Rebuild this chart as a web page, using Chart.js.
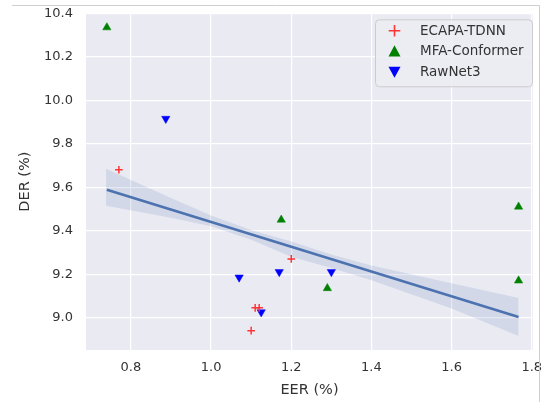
<!DOCTYPE html>
<html>
<head>
<meta charset="utf-8">
<script src="https://cdn.jsdelivr.net/npm/chart.js@4.4.1/dist/chart.umd.min.js"></script>
<style>
  html, body { margin: 0; padding: 0; background: #fff; }
  #wrap { width: 542px; height: 402px; }
</style>
</head>
<body>
<div id="wrap"><canvas id="myChart" width="542" height="402"></canvas></div>
<script>
// values
var ecapaEER = [0.77, 1.20, 1.11, 1.12, 1.10];
var ecapaDER = [9.68, 9.27, 9.045, 9.045, 8.94];
var mfaEER = [0.74, 1.175, 1.29, 1.767, 1.767];
var mfaDER = [10.335, 9.45, 9.135, 9.51, 9.17];
var rawEER = [0.887, 1.07, 1.17, 1.125, 1.30];
var rawDER = [9.915, 9.185, 9.21, 9.025, 9.21];

// confidence band of the fit
var fitX = [0.738, 0.9, 1.0, 1.1, 1.2, 1.3, 1.4, 1.6, 1.767];
var fitLow = [9.515, 9.459, 9.42, 9.358, 9.28, 9.228, 9.172, 9.042, 8.915];
var fitHigh = [9.685, 9.55, 9.47, 9.403, 9.35, 9.29, 9.24, 9.158, 9.09];

var xTicks = [0.8, 1.0, 1.2, 1.4, 1.6, 1.8];
var yTicks = [9.0, 9.2, 9.4, 9.6, 9.8, 10.0, 10.2, 10.4];

var seriesNames = ['ECAPA-TDNN', 'MFA-Conformer', 'RawNet3'];
var seriesColors = ['#ff3535', '#008000', '#0000ff'];

function pts(xs, ys) {
    return xs.map(function (x, i) { return {x: x, y: ys[i]}; });
}

// least squares fit over all points
var allX = ecapaEER.concat(mfaEER, rawEER);
var allY = ecapaDER.concat(mfaDER, rawDER);
var mx = allX.reduce(function (a, b) { return a + b; }, 0) / allX.length;
var my = allY.reduce(function (a, b) { return a + b; }, 0) / allY.length;
var sxy = 0, sxx = 0;
allX.forEach(function (x, i) { sxy += (x - mx) * (allY[i] - my); sxx += (x - mx) * (x - mx); });
var slope = sxy / sxx;
var icpt = my - slope * mx;
var x0 = Math.min.apply(null, allX), x1 = Math.max.apply(null, allX);
var fitLine = [{x: x0, y: icpt + slope * x0}, {x: x1, y: icpt + slope * x1}];

function drawMarker(ctx, kind, x, y, r, color) {
    ctx.save();
    ctx.fillStyle = color;
    ctx.strokeStyle = color;
    ctx.lineWidth = 1.6;
    ctx.beginPath();
    if (kind === 'plus') {
        ctx.moveTo(x - r, y); ctx.lineTo(x + r, y);
        ctx.moveTo(x, y - r); ctx.lineTo(x, y + r);
        ctx.stroke();
    } else {
        var d = kind === 'up' ? 1 : -1;
        ctx.moveTo(x, y - d * r);
        ctx.lineTo(x - r, y + d * r * 0.85);
        ctx.lineTo(x + r, y + d * r * 0.85);
        ctx.closePath();
        ctx.fill();
    }
    ctx.restore();
}

var frameAndLegend = {
    id: 'frameAndLegend',
    beforeDraw: function (chart) {
        var c = chart.ctx, a = chart.chartArea;
        c.save();
        c.fillStyle = '#eaeaf2';
        c.fillRect(a.left, a.top, a.right - a.left, a.bottom - a.top);
        c.restore();
    },
    afterDraw: function (chart) {
        var c = chart.ctx, a = chart.chartArea;
        c.save();
        // outer frame of the screenshot
        c.strokeStyle = '#cfcfcf';
        c.lineWidth = 1;
        c.beginPath();
        c.moveTo(12, 5.5); c.lineTo(539.5, 5.5); c.lineTo(539.5, 402);
        c.stroke();

        // legend
        var bw = 157, bh = 67;
        var bx = a.right - bw - 1, by = a.top + 6;
        c.fillStyle = 'rgba(236,236,243,0.85)';
        c.strokeStyle = '#cccccc';
        c.beginPath();
        c.roundRect(bx + 0.5, by + 0.5, bw, bh, 4);
        c.fill();
        c.stroke();
        var kinds = ['plus', 'up', 'down'];
        c.font = '13.5px "DejaVu Sans"';
        c.textBaseline = 'middle';
        for (var i = 0; i < 3; i++) {
            var ry = by + 11.5 + i * 20.5;
            drawMarker(c, kinds[i], bx + 19.5, ry, kinds[i] === 'plus' ? 5.8 : 6, seriesColors[i]);
            c.fillStyle = '#333333';
            c.fillText(seriesNames[i], bx + 45, ry + 0.5);
        }
        c.restore();
    }
};

var ctx = document.getElementById('myChart').getContext('2d');

var myChart = new Chart(ctx, {
    type: 'scatter',
    data: {
        datasets: [{
            label: seriesNames[0],
            data: pts(ecapaEER, ecapaDER),
            pointStyle: 'cross',
            pointRadius: 3.8,
            pointBorderWidth: 1.5,
            borderColor: seriesColors[0],
            backgroundColor: seriesColors[0]
        }, {
            label: seriesNames[1],
            data: pts(mfaEER, mfaDER),
            pointStyle: 'triangle',
            pointRadius: 4.8,
            pointBorderWidth: 0.5,
            borderColor: seriesColors[1],
            backgroundColor: seriesColors[1]
        }, {
            label: seriesNames[2],
            data: pts(rawEER, rawDER),
            pointStyle: 'triangle',
            rotation: 180,
            pointRadius: 4.8,
            pointBorderWidth: 0.5,
            borderColor: seriesColors[2],
            backgroundColor: seriesColors[2]
        }, {
            label: 'fit',
            type: 'line',
            data: fitLine,
            borderColor: '#4c72b0',
            borderWidth: 2.6,
            pointRadius: 0
        }, {
            label: 'ci high',
            type: 'line',
            data: pts(fitX, fitHigh),
            borderWidth: 0,
            pointRadius: 0,
            fill: '+1',
            backgroundColor: 'rgba(76,114,176,0.15)'
        }, {
            label: 'ci low',
            type: 'line',
            data: pts(fitX, fitLow),
            borderWidth: 0,
            pointRadius: 0,
            fill: false
        }]
    },
    options: {
        responsive: false,
        animation: false,
        layout: { padding: { top: 13.3, right: 9, left: 0, bottom: 0 } },
        plugins: {
            legend: { display: false },
            tooltip: { enabled: false }
        },
        scales: {
            x: {
                type: 'linear',
                min: 0.688,
                max: 1.803,
                afterBuildTicks: function (s) { s.ticks = xTicks.map(function (v) { return {value: v}; }); },
                afterFit: function (s) { s.height = 52; s.paddingLeft = 0; s.paddingRight = 0; },
                grid: { color: '#ffffff', lineWidth: 1.2, drawTicks: false },
                border: { display: false },
                ticks: {
                    padding: 10,
                    color: '#333333',
                    font: { family: 'DejaVu Sans', size: 13 },
                    callback: function (v) { return v.toFixed(1); }
                },
                title: {
                    display: true,
                    text: 'EER (%)',
                    color: '#333333',
                    font: { family: 'DejaVu Sans', size: 14.5 },
                    padding: { top: 0, bottom: 3 }
                }
            },
            y: {
                type: 'linear',
                min: 8.851,
                max: 10.4,
                afterBuildTicks: function (s) { s.ticks = yTicks.map(function (v) { return {value: v}; }); },
                afterFit: function (s) { s.width = 86; s.paddingTop = 0; s.paddingBottom = 0; },
                grid: { color: '#ffffff', lineWidth: 1.2, drawTicks: false },
                border: { display: false },
                ticks: {
                    padding: 13,
                    color: '#333333',
                    font: { family: 'DejaVu Sans', size: 13 },
                    callback: function (v) { return v.toFixed(1); }
                },
                title: {
                    display: true,
                    text: 'DER (%)',
                    color: '#333333',
                    font: { family: 'DejaVu Sans', size: 14.5 },
                    padding: { top: 17, bottom: 0 }
                }
            }
        }
    },
    plugins: [frameAndLegend]
});
</script>
</body>
</html>
